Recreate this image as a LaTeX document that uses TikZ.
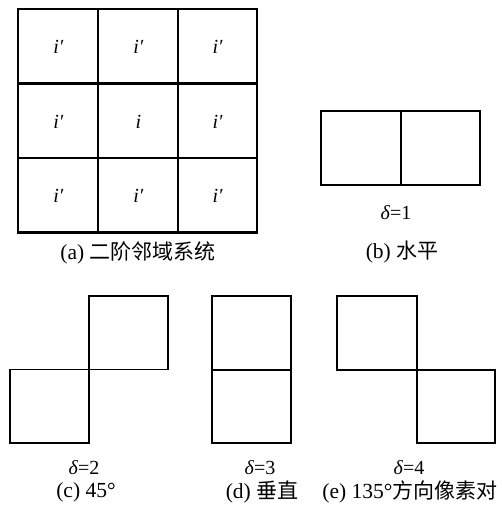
\documentclass[tikz,border=0pt]{standalone}
\usepackage{fontspec}
\setmainfont{Liberation Serif}
\newfontfamily\cjk{Noto Sans CJK SC}
\begin{document}
\begin{tikzpicture}[x=1pt,y=-1pt,
  cell/.style={draw=black,line width=1.7pt},
  lbl/.style={inner sep=0pt,font=\fontsize{20}{22}\selectfont\itshape},
  dlt/.style={inner sep=0pt,font=\fontsize{20}{22}\selectfont},
  captxt/.style={inner sep=0pt,font=\fontsize{21.5}{23}\selectfont},
  zh/.style={}]
\newcommand\zhtext[1]{{\cjk\fontsize{21}{23}\selectfont #1}}
\useasboundingbox (0,0) rectangle (501,510);
% (a) grid
\foreach \c/\x in {0/18.3,1/98.3,2/178.3}{
  \foreach \r/\y in {0/9.3,1/83.3,2/158.3}{
    \draw[cell] (\x,\y) rectangle ++(79.2,74.5);
  }
}
\draw[cell] (18.3,9.3) rectangle (256.7,231.7);
\node[lbl] (a11) at (58.3,47) {i′};
\node[lbl] (a12) at (138.3,47) {i′};
\node[lbl] (a13) at (217.5,47) {i′};
\node[lbl] (a21) at (58.3,121.5) {i′};
\node[lbl] (a22) at (138.3,121.5) {i};
\node[lbl] (a23) at (217.5,121.5) {i′};
\node[lbl] (a31) at (58.3,195.5) {i′};
\node[lbl] (a32) at (138.3,195.5) {i′};
\node[lbl] (a33) at (217.5,195.5) {i′};
\node[captxt] (capa) at (138,253) {(a) \zhtext{二阶邻域系统}};
% (b)
\draw[cell] (320.7,111) rectangle (400.7,185);
\draw[cell] (400.7,111) rectangle (480,185);
\node[dlt] (db) at (396,213) {\textit{δ}=1};
\node[captxt] (capb) at (402,252) {(b) \zhtext{水平}};
% (c)
\draw[cell] (88.8,295.7) rectangle (167.7,369.5);
\draw[cell] (10,369.5) rectangle (88.8,443.3);
\node[dlt] (dc) at (84,468) {\textit{δ}=2};
\node[captxt] (capc) at (86,492) {(c) 45°};
% (d)
\draw[cell] (211.7,295.7) rectangle (290.7,370);
\draw[cell] (211.7,370) rectangle (290.7,443.3);
\node[dlt] (dd) at (260,468) {\textit{δ}=3};
\node[captxt] (capd) at (262,492) {(d) \zhtext{垂直}};
% (e)
\draw[cell] (336.7,295.7) rectangle (416.7,370);
\draw[cell] (416.7,370) rectangle (495,443.3);
\node[dlt] (de) at (409,468) {\textit{δ}=4};
\node[captxt] (cape) at (410,492) {(e) 135°\zhtext{方向像素对}};
\end{tikzpicture}
\end{document}
